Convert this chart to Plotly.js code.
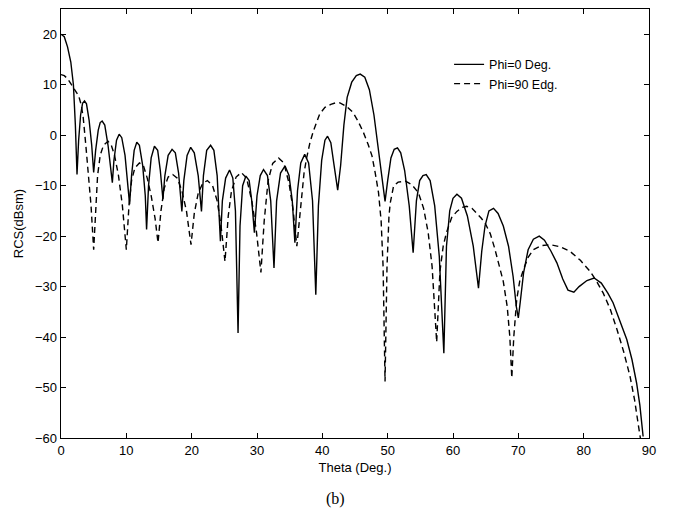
<!DOCTYPE html>
<html>
<head>
<meta charset="utf-8">
<script src="https://cdn.plot.ly/plotly-3.0.1.min.js"></script>
<style>html,body{margin:0;padding:0;background:#fff;}#chart{width:673px;height:508px;}</style>
</head>
<body>
<div id="chart"></div>
<script>
// Phi=0 Deg. (solid)
var thetaPhi0 = [0,0.5,1.0,1.5,1.9,2.2,2.45,2.7,3.0,3.3,3.6,3.9,4.3,4.7,5.0,5.3,5.7,6.0,6.3,6.7,7.2,7.6,7.86,8.1,8.5,8.9,9.3,9.8,10.2,10.5,10.8,11.2,11.6,12.0,12.5,12.9,13.1,13.4,13.8,14.3,14.8,15.2,15.6,15.9,16.4,17.0,17.5,18.0,18.5,18.8,19.3,19.85,20.4,21.0,21.5,21.8,22.3,22.9,23.4,23.9,24.4,24.7,25.2,25.8,26.3,26.7,27.1,27.4,27.8,28.3,28.8,29.2,29.6,30.0,30.5,31.0,31.6,32.1,32.6,33.0,33.6,34.3,34.9,35.4,35.8,36.2,36.7,37.3,37.9,38.5,39.0,39.4,39.9,40.4,40.8,41.3,41.8,42.35,42.8,43.3,43.8,44.5,45.2,45.8,46.5,47.2,47.9,48.6,49.2,49.6,50.0,50.5,51.0,51.5,52.0,52.6,53.3,53.9,54.4,54.9,55.4,55.9,56.5,57.2,57.9,58.6,59.0,59.5,60.0,60.6,61.3,62.2,63.1,63.9,64.4,64.9,65.5,66.2,66.9,67.7,68.5,69.2,69.7,70.0,70.3,70.8,71.5,72.3,73.2,74.0,75.0,75.9,76.8,77.6,78.5,79.3,80.5,81.6,82.7,83.7,84.5,85.5,86.6,87.4,88.1,88.6,89.1];
var rcsPhi0 = [20,19.5,17.5,14.5,10,2,-7.8,-1,4,6.3,6.8,6.2,3,-2,-7.4,-3,1,2.5,2.8,2,-2,-6,-9.4,-5,-1,0.2,-0.5,-4,-9,-13.7,-8,-3,-1.4,-2,-6,-12,-18.7,-10,-4.5,-2.2,-3,-7,-12.7,-8,-4,-2.8,-3.5,-7.5,-15.1,-9,-4,-2.4,-3.5,-8,-15.1,-8,-3,-2.0,-3,-8,-21,-13,-8.5,-6.9,-8.5,-15,-39.2,-18,-10,-8.1,-9,-13,-19.3,-12,-8,-6.8,-8,-13,-26.3,-13,-7.5,-6.1,-8,-13,-21.3,-11,-5.5,-3.8,-5.5,-13,-31.6,-14,-5,-1,-0.2,-1.5,-6,-10.9,-6,2,7.5,10.5,11.8,12.1,11.5,9,4,-3,-9,-13.1,-9,-4.5,-2.8,-2.5,-3.5,-7,-14,-23.3,-13,-9,-8,-7.8,-9,-14,-24,-43.2,-22,-15,-12.5,-11.7,-12.5,-16,-22,-30.3,-23,-18,-15,-14.5,-15.5,-18,-22,-28,-34,-36.2,-33,-27.3,-22.7,-20.6,-20.0,-20.8,-23,-25.3,-28.5,-30.7,-31.1,-30,-28.8,-28.3,-29.3,-31.3,-33.2,-36.5,-40.5,-44.5,-49.1,-53.5,-59.7];

// Phi=90 Edg. (dashed)
var thetaPhi90 = [0,0.5,1.0,1.6,2.2,2.7,3.1,3.4,3.8,4.2,4.6,5.0,5.3,5.6,6.0,6.5,7.2,7.7,8.2,8.8,9.4,10.0,10.4,10.8,11.3,12.0,12.6,13.2,13.8,14.4,14.85,15.3,15.8,16.4,17.1,17.8,18.5,19.2,19.9,20.4,21.0,21.7,22.4,23.2,23.9,24.5,25.1,25.6,26.1,26.8,27.6,28.4,29.2,29.9,30.6,31.1,31.7,32.4,33.3,34.1,34.9,35.5,36.1,36.5,36.8,37.2,37.6,38.1,38.6,39.6,40.4,41.3,42.0,42.7,43.7,44.7,45.5,46.3,47.0,47.6,48.1,48.6,49.0,49.3,49.6,49.9,50.2,50.4,50.9,51.6,52.7,53.7,54.7,55.5,56.2,56.8,57.5,58.0,58.5,59.0,59.8,60.6,61.4,62.1,62.9,63.6,64.3,64.9,65.7,66.4,67.1,67.7,68.3,68.7,69.0,69.3,69.75,70.2,70.8,71.5,72.3,73.5,74.9,76.4,77.9,79.5,81.0,82.0,83.0,84.1,85.1,86.1,87.1,87.8,88.4,88.8];
var rcsPhi90 = [12,11.8,11.2,10,8.8,7.8,6,3.5,-2,-8,-14,-22.7,-14,-8,-4,-2,-1.2,-2,-4,-8,-14,-22.7,-14,-9,-6.5,-5.5,-6,-8.5,-12,-16.5,-21.3,-15,-10.5,-8.3,-7.8,-8.5,-11,-15,-21.7,-15.5,-11.5,-9.5,-9.0,-10,-13,-18,-25,-16,-11,-8.3,-7.4,-8.5,-13,-19,-27.2,-17,-9,-5.6,-4.5,-5.5,-9.5,-14.5,-22,-17,-13,-7.5,-4.5,-1.5,0.7,4.2,5.5,6.1,6.4,6.4,5.7,4.5,2.7,0.5,-1.8,-4.1,-7.5,-11.4,-17,-26,-48.8,-26,-16,-13.4,-10.1,-9.3,-9.1,-9.8,-11.4,-14.5,-19.3,-26,-41,-27,-22,-19.3,-16.3,-15.1,-14.3,-14.1,-14.5,-15.4,-16.4,-17.4,-19.5,-22.5,-26,-29,-34,-40,-48.1,-40,-32.6,-29,-26.6,-24.2,-22.7,-21.9,-21.7,-22.1,-23,-24.8,-27,-29,-31.3,-34.6,-38.5,-42.8,-47.8,-52.5,-57.7,-61];

var seriesNames = ['Phi=0 Deg.', 'Phi=90 Edg.'];
var xTitle = 'Theta (Deg.)';
var yTitle = 'RCS(dBsm)';
var caption = '(b)';

var axisFont = {family: 'Arial, "Liberation Sans", sans-serif', size: 13, color: '#000'};
var legendFont = {family: 'Arial, "Liberation Sans", sans-serif', size: 12.5, color: '#000'};

var traces = [
  {x: thetaPhi0, y: rcsPhi0, name: seriesNames[0], type: 'scatter', mode: 'lines',
   line: {color: '#000', width: 1.4, dash: 'solid'}},
  {x: thetaPhi90, y: rcsPhi90, name: seriesNames[1], type: 'scatter', mode: 'lines',
   line: {color: '#000', width: 1.4, dash: '6px,4px'}}
];

var layout = {
  width: 673, height: 508,
  margin: {l: 61, r: 24, t: 9, b: 70},
  paper_bgcolor: '#fff', plot_bgcolor: '#fff',
  font: axisFont,
  showlegend: true,
  legend: {x: 0.66, y: 0.905, xanchor: 'left', yanchor: 'top', bgcolor: 'rgba(0,0,0,0)',
           borderwidth: 0, font: legendFont, tracegroupgap: 0},
  xaxis: {range: [0, 90], dtick: 10, tick0: 0, ticks: 'inside', ticklen: 5, tickcolor: '#000',
          showline: true, linecolor: '#000', linewidth: 1.3, mirror: 'ticks', showgrid: false,
          zeroline: false, tickfont: axisFont,
          title: {text: xTitle, font: axisFont, standoff: 6}},
  yaxis: {range: [-60, 25], dtick: 10, tick0: 0, ticks: 'inside', ticklen: 5, tickcolor: '#000',
          showline: true, linecolor: '#000', linewidth: 1.3, mirror: 'ticks', showgrid: false,
          zeroline: false, tickfont: axisFont,
          title: {text: yTitle, font: axisFont, standoff: 8}},
  annotations: [{text: caption, xref: 'paper', yref: 'paper', x: 0.466, y: -0.142,
                 xanchor: 'center', yanchor: 'middle', showarrow: false,
                 font: {family: '"Liberation Serif", "Times New Roman", serif', size: 16, color: '#000'}}]
};

Plotly.newPlot('chart', traces, layout, {displayModeBar: false, staticPlot: true});
</script>
</body>
</html>
